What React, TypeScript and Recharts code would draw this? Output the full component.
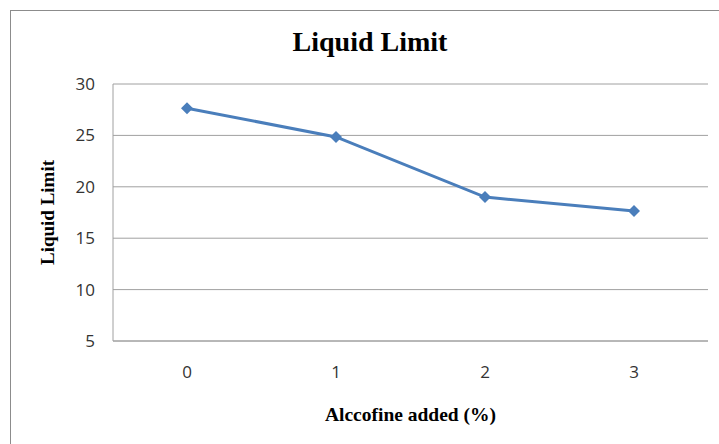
import React from 'react';
import { LineChart, Line, XAxis, YAxis, CartesianGrid } from 'recharts';

const alccofineAdded = ['0', '1', '2', '3'];
const liquidLimit = [27.65, 24.85, 19.0, 17.65];
const yTicks = [5, 10, 15, 20, 25, 30];

const data = alccofineAdded.map((x, i) => ({ x, ll: liquidLimit[i] }));

const Diamond = (props: any) => {
  const { cx, cy } = props;
  if (cx == null || cy == null) return null;
  const r = 6;
  return (
    <polygon
      points={`${cx},${cy - r} ${cx + r},${cy} ${cx},${cy + r} ${cx - r},${cy}`}
      fill="#4a7ebb"
    />
  );
};

const serif = '"Liberation Serif", "Times New Roman", serif';
const sans = '"Open Sans", "Liberation Sans", sans-serif';

export default function App() {
  return (
    <div
      style={{
        position: 'absolute',
        left: 0,
        top: 0,
        width: 719,
        height: 444,
        overflow: 'hidden',
        background: '#fff',
      }}
    >
      <div
        style={{
          position: 'absolute',
          left: 10,
          top: 10,
          width: 740,
          height: 460,
          border: '1px solid #8c8c8c',
        }}
      />
      <div
        style={{
          position: 'absolute',
          left: 250,
          width: 240,
          top: 26,
          textAlign: 'center',
          fontFamily: serif,
          fontWeight: 'bold',
          fontSize: 28,
          color: '#000',
        }}
      >
        Liquid Limit
      </div>
      <div style={{ position: 'absolute', left: 0, top: 0 }}>
        <LineChart
          width={719}
          height={444}
          data={data}
          margin={{ top: 84, right: 11, bottom: 0, left: 0 }}
        >
          <CartesianGrid vertical={false} stroke="#a0a0a0" />
          <XAxis
            dataKey="x"
            height={103}
            padding={{ left: 74, right: 74 }}
            axisLine={{ stroke: '#a0a0a0' }}
            tickLine={false}
            tickSize={0}
            tickMargin={25}
            tick={{ fill: '#333', fontSize: 17, fontFamily: sans }}
            label={{
              value: 'Alccofine added (%)',
              position: 'center',
              dy: 22,
              fill: '#000',
              fontSize: 19.5,
              fontWeight: 'bold',
              fontFamily: serif,
            }}
          />
          <YAxis
            width={113}
            domain={[5, 30]}
            ticks={yTicks}
            interval={0}
            axisLine={{ stroke: '#a0a0a0' }}
            tickLine={false}
            tickSize={0}
            tickMargin={18}
            tick={{ fill: '#333', fontSize: 17, fontFamily: sans }}
            label={{
              value: 'Liquid Limit',
              angle: -90,
              position: 'center',
              dx: -9,
              fill: '#000',
              fontSize: 19,
              fontWeight: 'bold',
              fontFamily: serif,
            }}
          />
          <Line
            type="linear"
            dataKey="ll"
            stroke="#4a7ebb"
            strokeWidth={3}
            dot={<Diamond />}
            activeDot={false}
            isAnimationActive={false}
          />
        </LineChart>
      </div>
    </div>
  );
}
